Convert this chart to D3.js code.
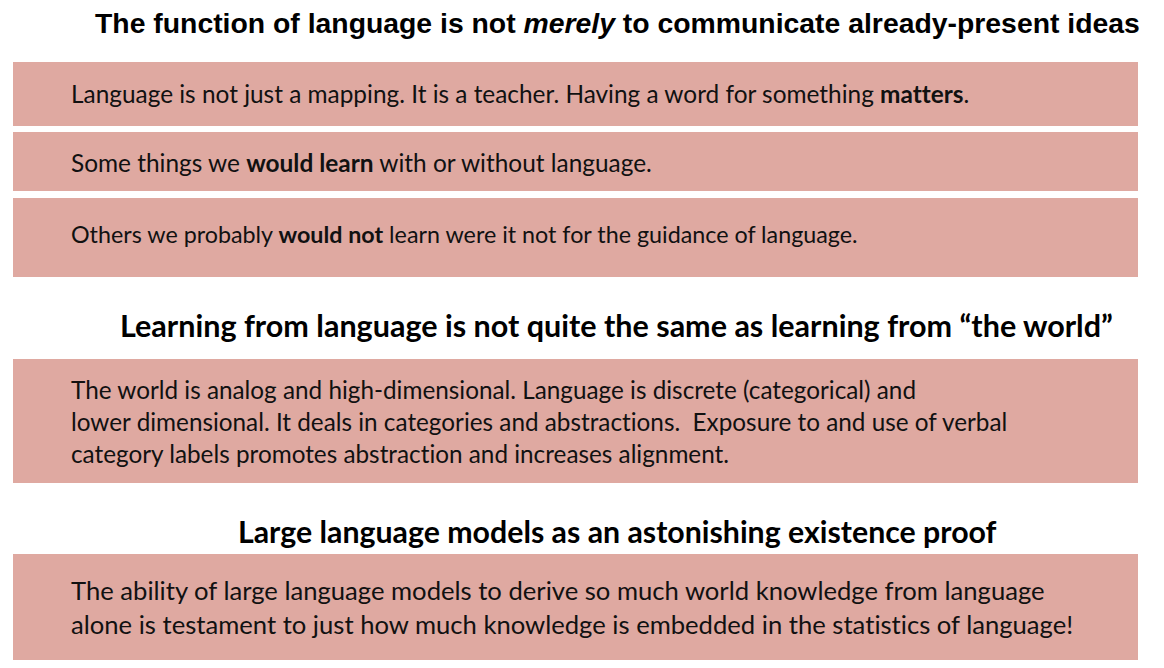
<!DOCTYPE html>
<html>
<head>
    <meta charset="UTF-8" />
    <title>Language as a teacher</title>
    <script src="https://d3js.org/d3.v7.min.js"></script>
    <style>
 	body { margin: 0; background: #fff; }
 	text { font-variant-ligatures: none; font-feature-settings: "liga" 0; }
 	</style>
</head>

<body>

	<div id="main"></div>
<script type="text/javascript">

// text content (** = bold, _ = italic)
const headings = [
  "The function of language is not _merely_ to communicate already-present ideas",
  "Learning from language is not quite the same as learning from \u201cthe world\u201d",
  "Large language models as an astonishing existence proof"
]

const section1Boxes = [
  ["Language is not just a mapping. It is a teacher. Having a word for something **matters**."],
  ["Some things we **would learn** with or without language."],
  ["Others we probably **would not** learn were it not for the guidance of language."]
]

const section2Boxes = [
  ["The world is analog and high-dimensional. Language is discrete (categorical) and",
   "lower dimensional. It deals in categories and abstractions.  Exposure to and use of verbal",
   "category labels promotes abstraction and increases alignment."]
]

const section3Boxes = [
  ["The ability of large language models to derive so much world knowledge from language",
   "alone is testament to just how much knowledge is embedded in the statistics of language!"]
]

const width = 1164
const height = 668
const boxFill = '#dfa9a1'
const bodyFont = 'Lato, "Noto Sans", sans-serif'

const svg = d3.select("#main").append("svg")
  .attr("width", width)
  .attr("height", height)

// split a string into styled runs
function runs(str) {
  return str.split(/(\*\*[^*]+\*\*|_[^_]+_)/).filter(s => s.length).map(s => {
    if (s.startsWith('**')) return { t: s.slice(2, -2), w: 'bold', i: 'normal' }
    if (s.startsWith('_')) return { t: s.slice(1, -1), w: null, i: 'italic' }
    return { t: s, w: null, i: 'normal' }
  })
}

function writeLine(g, str, x, y) {
  const t = g.append('text').attr('x', x).attr('y', y).attr('xml:space', 'preserve')
  t.selectAll('tspan').data(runs(str)).enter().append('tspan')
    .attr('font-weight', d => d.w)
    .attr('font-style', d => d.i)
    .text(d => d.t)
  return t
}

// scale font size so the widest line fills the target width
function fit(texts, target, base) {
  const w = d3.max(texts, t => t.node().getComputedTextLength())
  const size = base * target / w
  texts.forEach(t => t.attr('font-size', size))
}

// headings
const headLayout = [
  { x: 95, y: 33, w: 1045, font: '"Liberation Sans", Arial, sans-serif', weight: 'bold' },
  { x: 120, y: 337, w: 993, font: bodyFont, weight: 'bold' },
  { x: 238, y: 543, w: 759, font: bodyFont, weight: 'bold' }
]

headings.forEach((h, i) => {
  const L = headLayout[i]
  const g = svg.append('g')
    .attr('font-family', L.font)
    .attr('font-weight', L.weight)
    .attr('font-size', 24)
    .attr('fill', '#000')
  const t = writeLine(g, h, L.x, L.y)
  fit([t], L.w, 24)
})

// boxes: y top/bottom of each rect, first baseline, line step, target width
const boxLayout = [
  { lines: section1Boxes[0], y0: 62, y1: 126, base: 103, step: 0, w: 899 },
  { lines: section1Boxes[1], y0: 132, y1: 191, base: 172, step: 0, w: 581 },
  { lines: section1Boxes[2], y0: 198, y1: 277, base: 243, step: 0, w: 787 },
  { lines: section2Boxes[0], y0: 359, y1: 483, base: 399, step: 32, w: 937 },
  { lines: section3Boxes[0], y0: 554, y1: 660, base: 600, step: 34, w: 1003 }
]

const x = d3.scaleLinear().domain([0, 1]).range([13, 1138])

const boxes = svg.selectAll('g.box').data(boxLayout).enter().append('g')
  .attr('class', 'box')

boxes.append('rect')
  .attr('x', x(0))
  .attr('y', d => d.y0)
  .attr('width', x(1) - x(0))
  .attr('height', d => d.y1 - d.y0)
  .attr('fill', boxFill)

boxes.each(function(d) {
  const g = d3.select(this).append('g')
    .attr('font-family', bodyFont)
    .attr('font-size', 20)
    .attr('fill', '#111')
  const texts = d.lines.map((line, j) => writeLine(g, line, 71, d.base + j * d.step))
  fit(texts, d.w, 20)
})

</script>
</body>
</html>
